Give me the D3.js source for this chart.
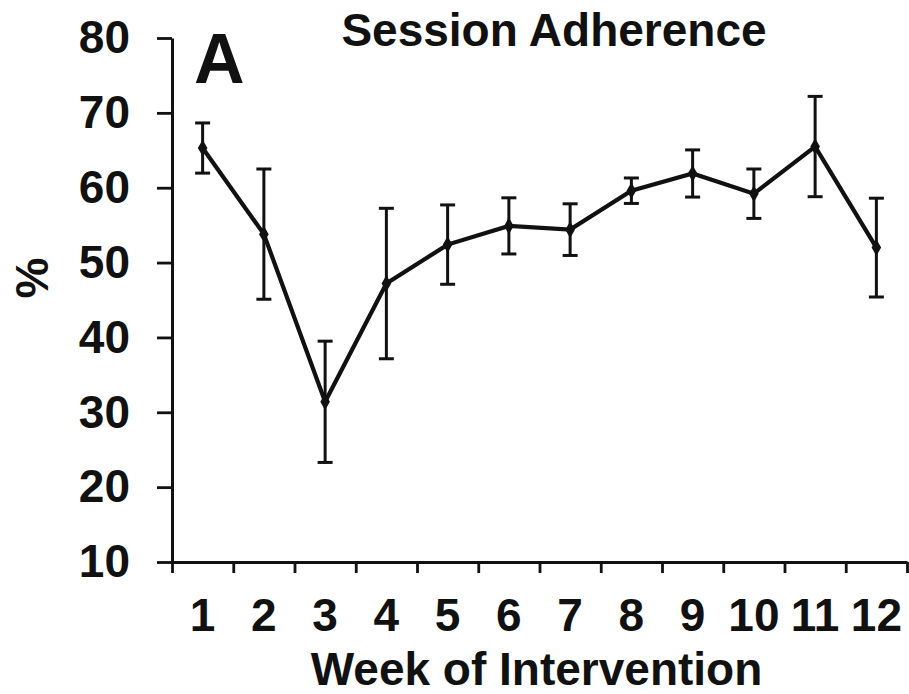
<!DOCTYPE html>
<html>
<head>
<meta charset="utf-8">
<script src="https://cdn.jsdelivr.net/npm/d3@7"></script>
<style>
  html, body { margin: 0; padding: 0; background: #fff; }
  svg { display: block; font-family: "Liberation Sans", Arial, sans-serif; font-weight: bold; }
</style>
</head>
<body>
<svg id="chart" width="909" height="694"></svg>
<script>
// Weekly session adherence (%), mean with error bars
const weeks = ["1", "2", "3", "4", "5", "6", "7", "8", "9", "10", "11", "12"];
const adherence = [65.3, 53.8, 31.4, 47.2, 52.4, 54.9, 54.4, 59.6, 61.9, 59.2, 65.5, 52.0];
const errors = [3.35, 8.7, 8.1, 10.05, 5.3, 3.75, 3.45, 1.7, 3.15, 3.3, 6.7, 6.6];
const yTicks = [10, 20, 30, 40, 50, 60, 70, 80];

const svg = d3.select("#chart");
const plotLeft = 172, plotRight = 907, plotTop = 38, plotBottom = 562;

const x = d3.scaleBand().domain(weeks).range([plotLeft, plotRight]).padding(0);
const xEdges = d3.scaleLinear().domain([0, weeks.length]).range([plotLeft, plotRight]);
const y = d3.scaleLinear().domain([10, 80]).range([plotBottom, plotTop]);

// Y axis
const yAxis = svg.append("g")
  .attr("transform", `translate(${plotLeft},0)`)
  .call(d3.axisLeft(y).tickValues(yTicks).tickSize(15).tickSizeOuter(0).tickPadding(27));
yAxis.select(".domain").attr("stroke", "#111").attr("stroke-width", 3);
yAxis.selectAll(".tick line").attr("stroke", "#111").attr("stroke-width", 2.8);
yAxis.selectAll(".tick text").attr("font-size", 46).attr("font-weight", "bold").attr("fill", "#111")
  .attr("font-family", "Liberation Sans, Arial, sans-serif");

// X axis: tick marks on category boundaries
const xTickAxis = svg.append("g")
  .attr("transform", `translate(0,${plotBottom})`)
  .call(d3.axisBottom(xEdges).tickValues(d3.range(weeks.length + 1))
    .tickFormat("").tickSize(11).tickSizeOuter(0));
xTickAxis.select(".domain").attr("stroke", "#111").attr("stroke-width", 3);
xTickAxis.selectAll(".tick line").attr("stroke", "#111").attr("stroke-width", 2.8);

// X axis: category labels centred in each band
const xLabelAxis = svg.append("g")
  .attr("transform", `translate(0,${plotBottom})`)
  .call(d3.axisBottom(x).tickSize(0).tickPadding(36));
xLabelAxis.select(".domain").remove();
xLabelAxis.selectAll(".tick text").attr("font-size", 46).attr("font-weight", "bold").attr("fill", "#111")
  .attr("font-family", "Liberation Sans, Arial, sans-serif");

const cx = (d, i) => x(weeks[i]) + x.bandwidth() / 2;

// Error bars
const eb = svg.append("g").attr("stroke", "#111").attr("stroke-width", 3);
adherence.forEach((v, i) => {
  const xc = cx(v, i);
  const hi = y(v + errors[i]), lo = y(v - errors[i]);
  eb.append("line").attr("x1", xc).attr("x2", xc).attr("y1", hi).attr("y2", lo);
  eb.append("line").attr("x1", xc - 7.5).attr("x2", xc + 7.5).attr("y1", hi).attr("y2", hi);
  eb.append("line").attr("x1", xc - 7.5).attr("x2", xc + 7.5).attr("y1", lo).attr("y2", lo);
});

// Mean line
const line = d3.line().x((d, i) => cx(d, i)).y(d => y(d));
svg.append("path").datum(adherence)
  .attr("d", line).attr("fill", "none").attr("stroke", "#111")
  .attr("stroke-width", 4.2).attr("stroke-linejoin", "miter");

// Point markers
svg.append("g").selectAll("path.pt").data(adherence).join("path")
  .attr("class", "pt")
  .attr("transform", (d, i) => `translate(${cx(d, i)},${y(d)})`)
  .attr("d", d3.symbol().type(d3.symbolDiamond).size(80))
  .attr("fill", "#111");

// Titles and labels
svg.append("text").attr("x", 554).attr("y", 46).attr("text-anchor", "middle")
  .attr("font-size", 46).attr("fill", "#111").text("Session Adherence");
svg.append("text").attr("x", 194).attr("y", 83)
  .attr("font-size", 70).attr("fill", "#111").text("A");
svg.append("text").attr("x", (plotLeft + plotRight) / 2 - 3).attr("y", 685).attr("text-anchor", "middle")
  .attr("font-size", 46).attr("fill", "#111").text("Week of Intervention");
svg.append("text").attr("transform", "translate(48,278) rotate(-90)").attr("text-anchor", "middle")
  .attr("font-size", 46).attr("fill", "#111").text("%");
</script>
</body>
</html>
